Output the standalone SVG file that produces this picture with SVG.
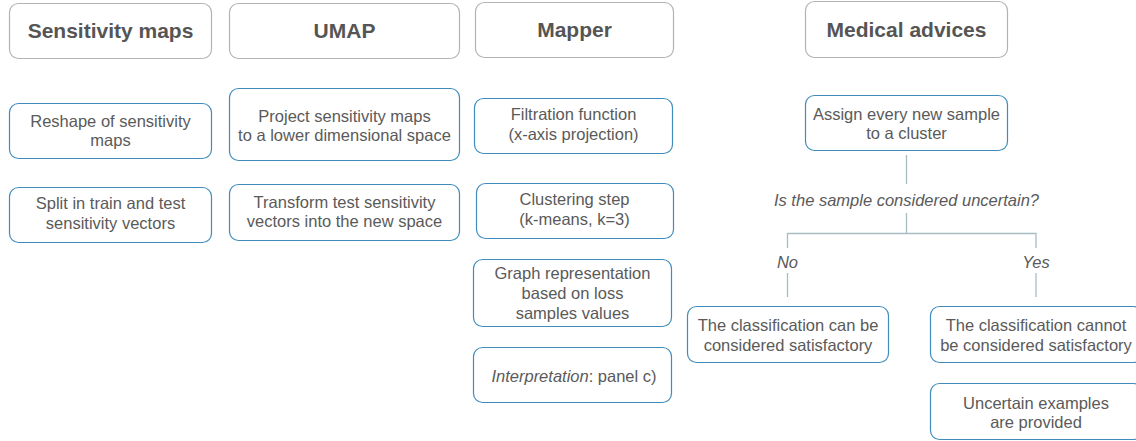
<svg xmlns="http://www.w3.org/2000/svg" width="1136" height="441" viewBox="0 0 1136 441">
  <style>
    .head { fill: #ffffff; stroke: #b3b3b3; stroke-width: 1.2; }
    .box { fill: #ffffff; stroke: #3f8cbd; stroke-width: 1.2; }
    .ht { font-family: "Liberation Sans", Arial, sans-serif; font-size: 21px; font-weight: bold; fill: #555555; text-anchor: middle; }
    .t { font-family: "Liberation Sans", Arial, sans-serif; font-size: 16.5px; fill: #5a5a5a; text-anchor: middle; }
    .i { font-style: italic; }
    .link { fill: none; stroke: #a9bcc1; stroke-width: 1.3; }
  </style>
  <rect width="1136" height="441" fill="#ffffff"/>

  <!-- column headers -->
  <g id="head-sensitivity"><rect class="head" x="9.5" y="3.5" width="202" height="55" rx="9"/><text class="ht" x="110.5" y="38">Sensitivity maps</text></g>
  <g id="head-umap"><rect class="head" x="229.5" y="3.5" width="230" height="55" rx="9"/><text class="ht" x="344.5" y="38">UMAP</text></g>
  <g id="head-mapper"><rect class="head" x="475.5" y="2.5" width="198" height="55" rx="9"/><text class="ht" x="574.5" y="37">Mapper</text></g>
  <g id="head-medical"><rect class="head" x="805.5" y="1.5" width="202" height="56" rx="9"/><text class="ht" x="906.5" y="37">Medical advices</text></g>

  <!-- sensitivity maps column -->
  <g id="reshape"><rect class="box" x="9.5" y="103.5" width="202" height="55" rx="9"/><text class="t" x="110.5" y="126.5">Reshape of sensitivity</text><text class="t" x="110.5" y="145.5">maps</text></g>
  <g id="split"><rect class="box" x="9.5" y="187.5" width="202" height="55" rx="9"/><text class="t" x="110.5" y="209">Split in train and test</text><text class="t" x="110.5" y="228.5">sensitivity vectors</text></g>

  <!-- UMAP column -->
  <g id="project"><rect class="box" x="229.5" y="88.5" width="230" height="72" rx="9"/><text class="t" x="344.5" y="121.5">Project sensitivity maps</text><text class="t" x="344.5" y="141">to a lower dimensional space</text></g>
  <g id="transform"><rect class="box" x="229.5" y="184.5" width="230" height="56" rx="9"/><text class="t" x="344.5" y="208">Transform test sensitivity</text><text class="t" x="344.5" y="227">vectors into the new space</text></g>

  <!-- Mapper column -->
  <g id="filtration"><rect class="box" x="474.5" y="98.5" width="198" height="55" rx="9"/><text class="t" x="573.5" y="120">Filtration function</text><text class="t" x="573.5" y="140">(x-axis projection)</text></g>
  <g id="clustering"><rect class="box" x="476.5" y="183.5" width="197" height="55" rx="9"/><text class="t" x="574.5" y="205">Clustering step</text><text class="t" x="574.5" y="225">(k-means, k=3)</text></g>
  <g id="graph"><rect class="box" x="473.5" y="259.5" width="198" height="67" rx="9"/><text class="t" x="572.5" y="279">Graph representation</text><text class="t" x="572.5" y="299">based on loss</text><text class="t" x="572.5" y="319">samples values</text></g>
  <g id="interpretation"><rect class="box" x="473.5" y="347.5" width="198" height="55" rx="9"/><text class="t" x="574" y="382"><tspan class="i">Interpretation</tspan>: panel c)</text></g>

  <!-- Medical advices column -->
  <g id="assign"><rect class="box" x="805.5" y="95.5" width="202" height="55" rx="9"/><text class="t" x="906.5" y="120">Assign every new sample</text><text class="t" x="906.5" y="139">to a cluster</text></g>
  <g id="question"><text class="t i" x="906.5" y="206">Is the sample considered uncertain?</text></g>
  <g id="label-no"><text class="t i" x="787.5" y="268">No</text></g>
  <g id="label-yes"><text class="t i" x="1036" y="268">Yes</text></g>
  <g id="satisfactory"><rect class="box" x="687.5" y="306.5" width="201" height="56" rx="9"/><text class="t" x="788" y="331">The classification can be</text><text class="t" x="788" y="351">considered satisfactory</text></g>
  <g id="not-satisfactory"><rect class="box" x="930.5" y="306.5" width="212" height="56" rx="9"/><text class="t" x="1036" y="331">The classification cannot</text><text class="t" x="1036" y="351">be considered satisfactory</text></g>
  <g id="uncertain-examples"><rect class="box" x="930.5" y="383.5" width="212" height="56" rx="9"/><text class="t" x="1036" y="408.5">Uncertain examples</text><text class="t" x="1036" y="428">are provided</text></g>

  <!-- connectors -->
  <g id="connectors">
    <path class="link" d="M906.5 155 V184"/>
    <path class="link" d="M906.5 213 V233.5"/>
    <path class="link" d="M787.5 248 V233.5 H1036 V248"/>
    <path class="link" d="M787.5 273 V297"/>
    <path class="link" d="M1036 273 V297"/>
  </g>
</svg>
